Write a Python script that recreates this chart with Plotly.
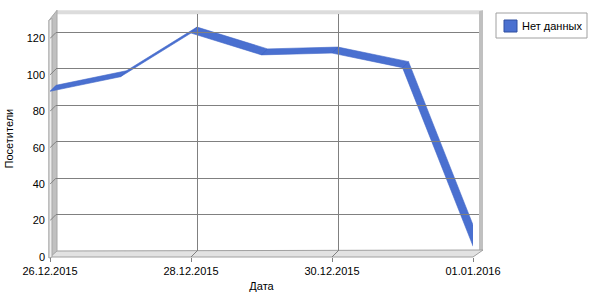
import plotly.graph_objects as go

# ---- data ----
dates = ["26.12.2015", "27.12.2015", "28.12.2015", "29.12.2015",
         "30.12.2015", "31.12.2015", "01.01.2016"]
visitors = [91, 99, 123, 111, 112, 104, 6]
series_name = "Нет данных"
y_ticks = [0, 20, 40, 60, 80, 100, 120]
x_tick_idx = [0, 2, 4, 6]

W, H = 600, 300
def px(x): return x / W
def py(y): return 1 - y / H

# front frame (pixels) and depth offset of the pseudo-3D box
FX0, FX1, FY0, FY1 = 50, 473, 20.3, 257
DEPTH = 6
YMAX = 130
xs = list(range(len(dates)))
XMAX = len(dates) - 1
dx = DEPTH / ((FX1 - FX0) / XMAX)
dy = DEPTH / ((FY1 - FY0) / YMAX)

BLUE = "#4a70d0"
FONT = "Liberation Sans, Arial, sans-serif"

fig = go.Figure()

# ribbon (one quad per segment from front edge to back edge)
rx, ry = [], []
for i in range(len(xs) - 1):
    rx += [xs[i], xs[i + 1], xs[i + 1] + dx, xs[i] + dx, xs[i], None]
    ry += [visitors[i], visitors[i + 1], visitors[i + 1] + dy, visitors[i] + dy, visitors[i], None]
fig.add_trace(go.Scatter(x=rx, y=ry, mode="lines", fill="toself", fillcolor=BLUE,
                         line=dict(color="#4266c8", width=0.6), name=series_name,
                         showlegend=False, hoverinfo="skip"))

# depth connectors: left wall (y ticks) and floor (x ticks)
cx, cy = [], []
for t in y_ticks[1:]:
    cx += [0, dx, None]; cy += [t, t + dy, None]
for t in x_tick_idx[1:-1]:
    cx += [t, t + dx, None]; cy += [0, dy, None]
fig.add_trace(go.Scatter(x=cx, y=cy, mode="lines", line=dict(color="#808080", width=1),
                         showlegend=False, hoverinfo="skip"))

# ---- walls / floor / back frame (decoration) ----
def poly(pts, fill, line=None, lw=0):
    path = "M " + " L ".join(f"{px(x)},{py(y)}" for x, y in pts) + " Z"
    return dict(type="path", path=path, xref="paper", yref="paper",
                fillcolor=fill, line=dict(color=line or fill, width=lw), layer="below")

BX0, BX1, BY0, BY1 = FX0 + DEPTH, FX1 + DEPTH, FY0 - DEPTH, FY1 - DEPTH
shapes = [
    # top band of back frame
    poly([(BX0, BY0 - 4), (BX1 + 4, BY0 - 4), (BX1 + 4, BY0), (BX0, BY0)], "#dcdcdc"),
    # right band
    poly([(BX1, BY0 - 3), (BX1 + 4, BY0 - 4), (BX1 + 4, BY1), (BX1, BY1)], "#c0c0c0"),
    # floor
    poly([(FX0, FY1), (FX1, FY1), (BX1 + 4, BY1 - 1), (BX0, BY1)], "#e2e2e2", "#a0a0a0", 1),
    # left wall
    poly([(FX0 - 1, FY0), (BX0 + 1, BY0 - 4), (BX0 + 1, BY1), (FX0 - 1, FY1 + 1)], "#c0c0c0", "#a8a8a8", 1),
    poly([(FX0 - 1, FY0), (FX0 + 2, FY0 - 2), (FX0 + 2, FY1), (FX0 - 1, FY1 + 1)], "#eeeeee", "#a8a8a8", 1),
    # legend box + swatch
    dict(type="rect", xref="paper", yref="paper", x0=px(496), x1=px(587), y0=py(38), y1=py(13),
         line=dict(color="#a0a0a0", width=1), fillcolor="white"),
    dict(type="rect", xref="paper", yref="paper", x0=px(504), x1=px(517), y0=py(32), y1=py(20),
         line=dict(color="#2f4fa0", width=1), fillcolor=BLUE),
]

fig.update_layout(
    width=W, height=H, margin=dict(l=0, r=0, t=0, b=0),
    paper_bgcolor="white", plot_bgcolor="rgba(0,0,0,0)",
    font=dict(family=FONT, size=11, color="black"),
    showlegend=False, shapes=shapes,
    annotations=[dict(text=series_name, xref="paper", yref="paper", x=px(520), y=py(26),
                      xanchor="left", yanchor="middle", showarrow=False,
                      font=dict(family=FONT, size=11, color="black"))],
    # front axes (labels, ribbon)
    xaxis=dict(domain=[px(FX0), px(FX1)], range=[0, XMAX], tickvals=x_tick_idx,
               ticktext=[dates[i] for i in x_tick_idx], showgrid=False, zeroline=False,
               ticks="outside", ticklen=4, tickcolor="#808080", automargin=False,
               title=dict(text="Дата", standoff=6, font=dict(size=11))),
    yaxis=dict(domain=[py(FY1), py(FY0)], range=[0, YMAX], tickvals=y_ticks,
               showgrid=False, zeroline=False, ticks="", automargin=False,
               ticklabelstandoff=4,
               title=dict(text="Посетители", standoff=10, font=dict(size=11))),
    # back plane (grid)
    xaxis2=dict(domain=[px(BX0), px(BX1)], range=[0, XMAX], anchor="y2", overlaying=None,
                tickvals=x_tick_idx[1:-1], showticklabels=False, showgrid=True,
                gridcolor="#808080", gridwidth=1, zeroline=False),
    yaxis2=dict(domain=[py(BY1), py(BY0)], range=[0, YMAX], anchor="x2",
                tickvals=y_ticks[1:], showticklabels=False, showgrid=True,
                gridcolor="#808080", gridwidth=1, zeroline=False),
)
# invisible trace to activate back axes
fig.add_trace(go.Scatter(x=[None], y=[None], xaxis="x2", yaxis="y2", showlegend=False))
# put back axes beneath by reordering data: back trace first
fig.data = (fig.data[-1],) + fig.data[:-1]

fig.write_html("out.html")
